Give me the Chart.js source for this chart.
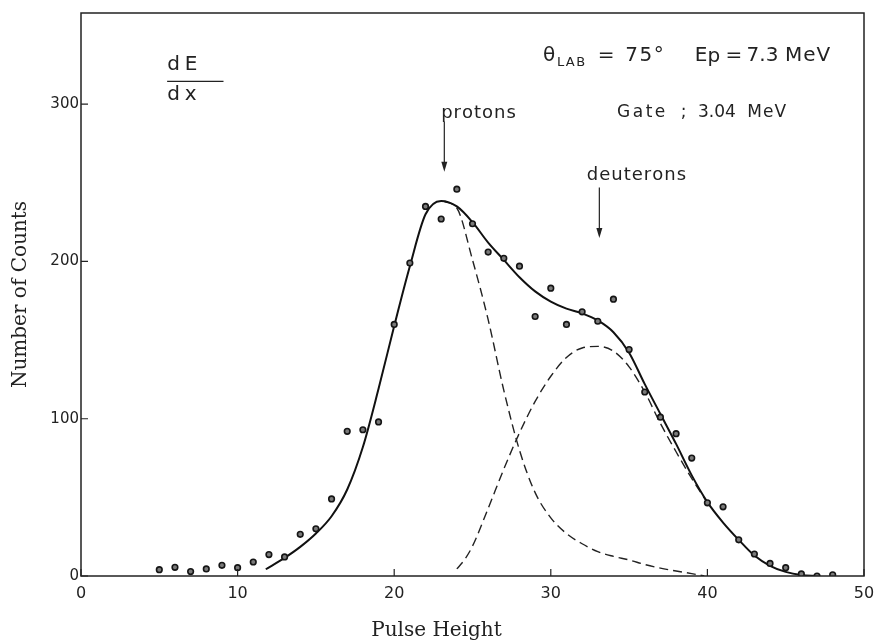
<!DOCTYPE html>
<html lang="en">
<head>
    <meta charset="UTF-8">
    <title>dE/dx Pulse Height Spectrum</title>
    <script src="https://cdn.jsdelivr.net/npm/chart.js"></script>
    <style>
        body { margin: 0; background: #fff; }
    </style>
</head>
<body>
    <canvas id="spectrum" width="874" height="642"></canvas>
    <script>
        // measured counts per channel
        const channels = [5, 6, 7, 8, 9, 10, 11, 12, 13, 14, 15, 16, 17, 18, 19, 20, 21, 22, 23, 24, 25, 26,
            27, 28, 29, 30, 31, 32, 33, 34, 35, 36, 37, 38, 39, 40, 41, 42, 43, 44, 45, 46, 47, 48];
        const counts = [4, 5.5, 2.8, 4.5, 6.8, 5.3, 8.9, 13.6, 12.1, 26.5, 30, 49, 92, 93, 98, 160, 199, 235, 227,
            246, 224, 206, 202, 197, 165, 183, 160, 168, 162, 176, 144, 117, 101, 90.5, 75, 46.5, 44, 23, 14, 8,
            5.3, 1.3, 0, 0.8];

        // total fit (solid)
        const totalX = [11.8, 13, 14, 15, 16, 17, 18, 19, 20, 21, 22, 23, 24, 25, 26, 27, 28, 29, 30, 31, 32, 33,
            34, 35, 36, 37, 38, 39, 40, 41, 42, 43, 44, 45, 46, 47];
        const totalFit = [4.3, 11.5, 18.5, 27, 38, 55, 82, 119, 159, 197, 230, 238.5, 235, 225, 212, 201, 190, 181,
            174.5, 170, 167, 162.5, 155, 142, 122, 103, 84, 64, 47, 34, 23, 13, 6.5, 2.6, 0.6, 0];

        // proton component (dashed)
        const protonX = [23.2, 24, 25, 26, 27, 28, 29, 30, 31, 32, 33, 34, 35, 36, 37, 38, 39, 39.8];
        const protonFit = [238, 234, 201, 163, 118, 80, 53, 37, 27, 20.5, 15.5, 12.5, 10.2, 7.3, 5, 3.2, 1.5, 0];

        // deuteron component (dashed)
        const deuteronX = [24, 24.5, 25, 26, 27, 28, 29, 30, 31, 32, 33, 34, 35, 36, 37, 38, 39, 40];
        const deuteronFit = [4.5, 10.5, 19, 43, 68, 91, 111, 127, 139, 145, 146, 143, 133, 117, 97, 79, 62, 46.5];

        const xTicks = [0, 10, 20, 30, 40, 50];
        const yTicks = [0, 100, 200, 300];

        const toXY = (xs, ys) => xs.map((x, i) => ({ x: x, y: ys[i] }));

        function spaced(ctx, text, x, y, spacing) {
            // draw text with extra letter spacing, left aligned
            let cx = x;
            for (const ch of text) {
                ctx.fillText(ch, cx, y);
                cx += ctx.measureText(ch).width + spacing;
            }
            return cx;
        }

        function arrow(ctx, x, y1, y2) {
            ctx.beginPath();
            ctx.moveTo(x, y1);
            ctx.lineTo(x, y2 - 8);
            ctx.stroke();
            ctx.beginPath();
            ctx.moveTo(x - 3, y2 - 10);
            ctx.lineTo(x + 3, y2 - 10);
            ctx.lineTo(x, y2);
            ctx.closePath();
            ctx.fill();
        }

        const decorations = {
            id: 'decorations',
            afterDraw(chart) {
                const ctx = chart.ctx;
                const area = chart.chartArea;
                const xs = chart.scales.x;
                const ys = chart.scales.y;
                const px = v => xs.getPixelForValue(v);
                const py = v => ys.getPixelForValue(v);
                ctx.save();
                ctx.strokeStyle = '#222';
                ctx.fillStyle = '#222';

                // frame
                ctx.lineWidth = 1.5;
                ctx.strokeRect(area.left, area.top, area.right - area.left, area.bottom - area.top);

                // inward ticks
                ctx.lineWidth = 1.2;
                ctx.beginPath();
                xTicks.forEach(v => {
                    ctx.moveTo(px(v), area.bottom);
                    ctx.lineTo(px(v), area.bottom - 7);
                });
                yTicks.forEach(v => {
                    ctx.moveTo(area.left, py(v));
                    ctx.lineTo(area.left + 7, py(v));
                });
                ctx.stroke();

                // x axis title
                ctx.font = '20px "DejaVu Serif"';
                ctx.textAlign = 'center';
                ctx.textBaseline = 'middle';
                ctx.fillText('Pulse Height', px(22.7), 631);

                // annotations
                ctx.font = '18px "DejaVu Sans"';
                ctx.textAlign = 'left';
                ctx.textBaseline = 'alphabetic';
                spaced(ctx, 'protons', px(23.0), py(291), 1);
                spaced(ctx, 'deuterons', px(32.3), py(251.5), 1);
                ctx.lineWidth = 1.2;
                arrow(ctx, px(23.2), py(289), py(257));
                arrow(ctx, px(33.1), py(247), py(215));

                // dE / dx
                ctx.font = '20px "DejaVu Sans"';
                spaced(ctx, 'dE', px(5.5), py(321.5), 5);
                spaced(ctx, 'dx', px(5.5), py(302.5), 5);
                ctx.lineWidth = 1.3;
                ctx.beginPath();
                ctx.moveTo(px(5.5), py(314.5));
                ctx.lineTo(px(9.1), py(314.5));
                ctx.stroke();

                // run conditions
                const y1 = py(327.5);
                ctx.font = '20px "DejaVu Sans"';
                ctx.fillText('\u03B8', px(29.5), y1);
                ctx.font = '13px "DejaVu Sans"';
                spaced(ctx, 'LAB', px(30.4), py(324.2), 1.5);
                ctx.font = '20px "DejaVu Sans"';
                ctx.fillText('=', px(33.0), y1);
                spaced(ctx, '75\u00B0', px(34.75), y1, 1.5);
                ctx.fillText('E', px(39.2), y1);
                ctx.fillText('p', px(40.0), y1 + 1);
                ctx.fillText('=', px(41.15), y1);
                ctx.fillText('7.3', px(42.5), y1);
                spaced(ctx, 'MeV', px(44.95), y1, 1);

                const y2 = py(292);
                ctx.font = '17px "DejaVu Sans"';
                spaced(ctx, 'Gate', px(34.23), y2, 2.5);
                ctx.fillText(';', px(38.3), y2);
                ctx.fillText('3.04', px(39.4), y2);
                spaced(ctx, 'MeV', px(42.55), y2, 1);

                ctx.restore();
            }
        };

        new Chart(document.getElementById('spectrum'), {
            type: 'scatter',
            data: {
                datasets: [
                    {
                        label: 'Counts',
                        data: toXY(channels, counts),
                        pointRadius: 2.8,
                        pointBorderWidth: 1.6,
                        pointBorderColor: '#151515',
                        pointBackgroundColor: '#7a7a7a',
                        showLine: false
                    },
                    {
                        label: 'Total',
                        data: toXY(totalX, totalFit),
                        showLine: true,
                        borderColor: '#111',
                        borderWidth: 2,
                        pointRadius: 0,
                        cubicInterpolationMode: 'monotone'
                    },
                    {
                        label: 'Protons',
                        data: toXY(protonX, protonFit),
                        showLine: true,
                        borderColor: '#222',
                        borderWidth: 1.4,
                        borderDash: [9, 5],
                        pointRadius: 0,
                        cubicInterpolationMode: 'monotone'
                    },
                    {
                        label: 'Deuterons',
                        data: toXY(deuteronX, deuteronFit),
                        showLine: true,
                        borderColor: '#222',
                        borderWidth: 1.4,
                        borderDash: [9, 5],
                        pointRadius: 0,
                        cubicInterpolationMode: 'monotone'
                    }
                ]
            },
            options: {
                responsive: false,
                animation: false,
                layout: { padding: { top: 13, right: 10, left: 0, bottom: 0 } },
                plugins: {
                    legend: { display: false },
                    tooltip: { enabled: false }
                },
                scales: {
                    x: {
                        type: 'linear',
                        min: 0,
                        max: 50,
                        grid: { display: false, drawTicks: false },
                        border: { display: false },
                        afterBuildTicks: s => { s.ticks = xTicks.map(v => ({ value: v })); },
                        afterFit: s => {
                            s.height = 66;
                            s.paddingLeft = 0;
                            s.paddingRight = 0;
                        },
                        ticks: {
                            padding: 8,
                            color: '#222',
                            font: { family: 'DejaVu Sans', size: 16 }
                        }
                    },
                    y: {
                        min: 0,
                        max: 358,
                        grid: { display: false, drawTicks: false },
                        border: { display: false },
                        afterBuildTicks: s => { s.ticks = yTicks.map(v => ({ value: v })); },
                        afterFit: s => {
                            s.width = 81;
                            s.paddingTop = 0;
                            s.paddingBottom = 0;
                        },
                        title: {
                            display: true,
                            text: 'Number of Counts',
                            color: '#222',
                            font: { family: 'DejaVu Serif', size: 20, lineHeight: 1 },
                            padding: { top: 11, bottom: 0 }
                        },
                        ticks: {
                            padding: 2,
                            color: '#222',
                            font: { family: 'DejaVu Sans', size: 15 }
                        }
                    }
                }
            },
            plugins: [decorations]
        });
    </script>
</body>
</html>
